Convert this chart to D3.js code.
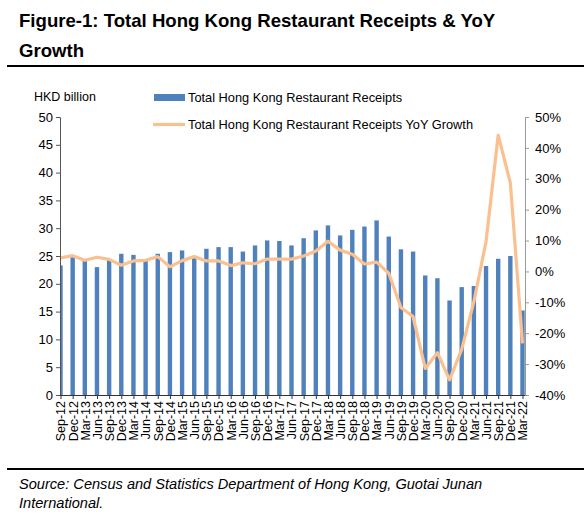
<!DOCTYPE html>
<html><head><meta charset="utf-8">
<script src="https://cdn.jsdelivr.net/npm/d3@7"></script>
<style>body{margin:0;background:#fff;}svg{display:block;font-family:Arial,"Liberation Sans",sans-serif;}</style>
</head><body><svg id="c" width="584" height="515"></svg>
<script>
const quarters = ["Sep-12","Dec-12","Mar-13","Jun-13","Sep-13","Dec-13","Mar-14","Jun-14","Sep-14","Dec-14","Mar-15","Jun-15","Sep-15","Dec-15","Mar-16","Jun-16","Sep-16","Dec-16","Mar-17","Jun-17","Sep-17","Dec-17","Mar-18","Jun-18","Sep-18","Dec-18","Mar-19","Jun-19","Sep-19","Dec-19","Mar-20","Jun-20","Sep-20","Dec-20","Mar-21","Jun-21","Sep-21","Dec-21","Mar-22"];
const receipts = [23.3,24.8,24.3,23.0,24.3,25.4,25.2,24.3,25.4,25.7,26.0,25.0,26.3,26.6,26.6,25.8,26.9,27.8,27.7,26.9,28.2,29.6,30.5,28.7,29.7,30.3,31.4,28.5,26.2,25.8,21.5,21.0,17.0,19.4,19.6,23.2,24.5,25.0,15.2];
const yoy = [4.4,5.1,3.6,4.6,3.9,2.0,3.4,3.6,4.8,1.5,3.5,4.8,3.4,3.4,1.9,2.8,2.5,4.0,4.0,4.0,5.0,6.6,9.8,6.9,5.6,2.4,3.0,-0.6,-11.7,-14.6,-31.4,-26.3,-35.1,-25.2,-9.8,9.6,44.1,28.7,-23.3];
const leftTicks = [0,5,10,15,20,25,30,35,40,45,50];
const rightTicks = [-40,-30,-20,-10,0,10,20,30,40,50];

const svg = d3.select("#c");
const L = 60, R = 525, T = 117, B = 395;
const x = d3.scalePoint().domain(quarters).range([60.5, 522.5]);
const yL = d3.scaleLinear().domain([0,50]).range([B,T]);
const yR = d3.scaleLinear().domain([-40,50]).range([B,T]);

// title
svg.append("text").attr("x",19).attr("y",27).attr("font-size",18.6).attr("font-weight","bold").text("Figure-1: Total Hong Kong Restaurant Receipts & YoY");
svg.append("text").attr("x",19).attr("y",57).attr("font-size",18.6).attr("font-weight","bold").text("Growth");
svg.append("line").attr("x1",7).attr("x2",584).attr("y1",66).attr("y2",66).attr("stroke","#000").attr("stroke-width",2);

// clip
svg.append("clipPath").attr("id","pc").append("rect").attr("x",L).attr("y",T-5).attr("width",R-L).attr("height",B-T+5);

// bars
svg.append("g").attr("clip-path","url(#pc)").selectAll("rect").data(quarters).join("rect")
  .attr("x",d=>x(d)-2.2).attr("width",4.4)
  .attr("y",(d,i)=>yL(receipts[i])).attr("height",(d,i)=>B-yL(receipts[i]))
  .attr("fill","#4F81BD");

// line
svg.append("path").datum(quarters).attr("fill","none").attr("stroke","#FAC090").attr("stroke-width",3.2)
  .attr("stroke-linejoin","round")
  .attr("d",d3.line().x(d=>x(d)).y((d,i)=>yR(yoy[i])));

// left axis
const la = svg.append("g").attr("transform",`translate(${L},0)`)
  .call(d3.axisLeft(yL).tickValues(leftTicks).tickSize(4).tickPadding(3));
la.select(".domain").attr("stroke","#555");
la.selectAll(".tick line").attr("stroke","#555");
la.selectAll("text").attr("font-size",13).attr("fill","#000").attr("font-family","Arial,'Liberation Sans',sans-serif");

// right axis
const ra = svg.append("g").attr("transform",`translate(${R},0)`)
  .call(d3.axisRight(yR).tickValues(rightTicks).tickSize(4).tickPadding(6).tickFormat(d=>d+"%"));
ra.select(".domain").attr("stroke","#999");
ra.selectAll(".tick line").attr("stroke","#999");
ra.selectAll("text").attr("font-size",13).attr("fill","#000").attr("font-family","Arial,'Liberation Sans',sans-serif");

// bottom axis
const ba = svg.append("g").attr("transform",`translate(0,${B})`)
  .call(d3.axisBottom(x).tickSize(4).tickPadding(2));
ba.select(".domain").attr("d",`M${L},0.5H${R}`).attr("stroke","#333");
ba.selectAll(".tick line").attr("stroke","#333");
ba.selectAll("text").attr("font-size",12.5).attr("fill","#000").attr("font-family","Arial,'Liberation Sans',sans-serif")
  .attr("transform","rotate(-90)").attr("text-anchor","end").attr("dy","0.35em").attr("x",-6).attr("y",0);

// unit label
svg.append("text").attr("x",34).attr("y",101).attr("font-size",12.5).text("HKD billion");

// legend
svg.append("rect").attr("x",154).attr("y",94).attr("width",31).attr("height",7).attr("fill","#4F81BD");
svg.append("text").attr("x",188).attr("y",102).attr("font-size",12.8).text("Total Hong Kong Restaurant Receipts");
svg.append("line").attr("x1",153).attr("x2",185).attr("y1",124.5).attr("y2",124.5).attr("stroke","#FAC090").attr("stroke-width",3.2);
svg.append("text").attr("x",188).attr("y",129).attr("font-size",12.8).text("Total Hong Kong Restaurant Receipts YoY Growth");

// footer
svg.append("line").attr("x1",7).attr("x2",584).attr("y1",469).attr("y2",469).attr("stroke","#000").attr("stroke-width",2);
svg.append("text").attr("x",19).attr("y",489).attr("font-size",14.6).attr("font-style","italic").text("Source: Census and Statistics Department of Hong Kong, Guotai Junan");
svg.append("text").attr("x",19).attr("y",508).attr("font-size",14.6).attr("font-style","italic").text("International.");
</script></body></html>
